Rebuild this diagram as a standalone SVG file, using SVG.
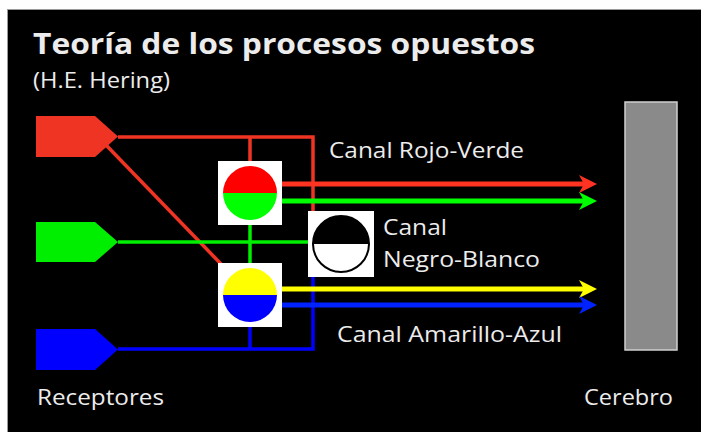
<svg xmlns="http://www.w3.org/2000/svg" width="701" height="432" viewBox="0 0 701 432">
<style>
  .bg { fill: #000; stroke: #9a9a9a; stroke-width: 1; }
  .t { font-family: "Open Sans", "Liberation Sans", sans-serif; fill: #ececec; }
  .title { font-size: 29px; font-weight: bold; }
  .lbl { font-size: 21.5px; }
  .box { fill: #fff; }
  .conn { fill: none; stroke-width: 3.5; stroke-linecap: butt; }
  .out { fill: none; stroke-width: 5; }
  .r { stroke: #f03424; }
  .g { stroke: #00ee00; }
  .b { stroke: #0000ff; }
  .ro { stroke: #ff3322; }
  .go { stroke: #00ff00; }
  .yo { stroke: #ffff00; }
  .bo { stroke: #0022ff; }
</style>
<defs>
  <marker id="ah-r" viewBox="0 0 18 18" refX="11" refY="9" markerWidth="18" markerHeight="18" markerUnits="userSpaceOnUse" orient="auto"><path d="M0,0 L18,9 L0,18 L5,9 Z" fill="#ff3322"/></marker>
  <marker id="ah-g" viewBox="0 0 18 18" refX="11" refY="9" markerWidth="18" markerHeight="18" markerUnits="userSpaceOnUse" orient="auto"><path d="M0,0 L18,9 L0,18 L5,9 Z" fill="#00ff00"/></marker>
  <marker id="ah-y" viewBox="0 0 18 18" refX="11" refY="9" markerWidth="18" markerHeight="18" markerUnits="userSpaceOnUse" orient="auto"><path d="M0,0 L18,9 L0,18 L5,9 Z" fill="#ffff00"/></marker>
  <marker id="ah-b" viewBox="0 0 18 18" refX="11" refY="9" markerWidth="18" markerHeight="18" markerUnits="userSpaceOnUse" orient="auto"><path d="M0,0 L18,9 L0,18 L5,9 Z" fill="#0022ff"/></marker>
</defs>

<rect x="0" y="0" width="701" height="432" fill="#fff"/>
<rect class="bg" x="7.5" y="9.5" width="700" height="430"/>

<text class="t title" x="33" y="54" textLength="502" lengthAdjust="spacingAndGlyphs">Teoría de los procesos opuestos</text>
<text class="t lbl" x="33" y="88" textLength="137" lengthAdjust="spacingAndGlyphs">(H.E. Hering)</text>

<g id="connectors">
  <path class="conn r" d="M118,137 H313 V211"/>
  <path class="conn r" d="M250,137 V161"/>
  <path class="conn r" d="M106,145 L222,265"/>
  <path class="conn g" d="M118,242 H308"/>
  <path class="conn g" d="M250,225 V263"/>
  <path class="conn b" d="M118,349 H313 V277"/>
  <path class="conn b" d="M250,327 V349"/>
  <path class="out ro" d="M272,184 H590" marker-end="url(#ah-r)"/>
  <path class="out go" d="M274,201 H590" marker-end="url(#ah-g)"/>
  <path class="out yo" d="M274,289 H590" marker-end="url(#ah-y)"/>
  <path class="out bo" d="M272,305 H590" marker-end="url(#ah-b)"/>
</g>

<g id="receptor-rojo"><polygon points="36,116 95,116 118,136.5 95,157 36,157" fill="#f03424"/></g>
<g id="receptor-verde"><polygon points="36,222 95,222 118,242 95,262 36,262" fill="#00ee00"/></g>
<g id="receptor-azul"><polygon points="36,329 95,329 118,349.5 95,370 36,370" fill="#0000ff"/></g>

<g id="proceso-rojo-verde">
  <rect class="box" x="218" y="161" width="64" height="64"/>
  <path d="M223,193 A27,27 0 0 1 277,193 Z" fill="#ff0000"/>
  <path d="M223,193 A27,27 0 0 0 277,193 Z" fill="#00ff00"/>
</g>
<g id="proceso-amarillo-azul">
  <rect class="box" x="218" y="263" width="64" height="64"/>
  <path d="M223,295 A27,27 0 0 1 277,295 Z" fill="#ffff00"/>
  <path d="M223,295 A27,27 0 0 0 277,295 Z" fill="#0000ff"/>
</g>
<g id="proceso-negro-blanco">
  <rect class="box" x="308" y="211" width="66" height="66"/>
  <path d="M313,244 A28,28 0 0 1 369,244 Z" fill="#000"/>
  <circle cx="341" cy="244" r="28" fill="none" stroke="#000" stroke-width="2"/>
</g>

<g id="cerebro">
  <rect x="625" y="102" width="52" height="248" fill="#8a8a8a" stroke="#d0d0d0" stroke-width="1.5"/>
</g>

<text class="t lbl" x="329" y="158" textLength="195" lengthAdjust="spacingAndGlyphs">Canal Rojo-Verde</text>
<text class="t lbl" x="383" y="235" textLength="64" lengthAdjust="spacingAndGlyphs">Canal</text>
<text class="t lbl" x="383" y="267" textLength="157" lengthAdjust="spacingAndGlyphs">Negro-Blanco</text>
<text class="t lbl" x="337" y="342" textLength="225" lengthAdjust="spacingAndGlyphs">Canal Amarillo-Azul</text>
<text class="t lbl" x="37" y="405" textLength="127" lengthAdjust="spacingAndGlyphs">Receptores</text>
<text class="t lbl" x="584" y="405" textLength="89" lengthAdjust="spacingAndGlyphs">Cerebro</text>
</svg>
